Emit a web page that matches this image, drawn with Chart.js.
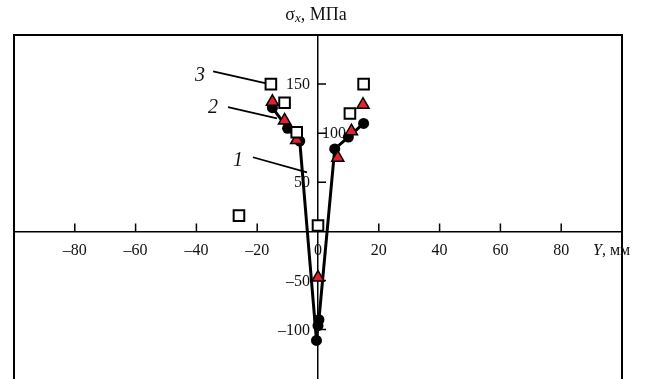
<!DOCTYPE html>
<html lang="ru">
<head>
<meta charset="UTF-8">
<title>σx, МПа</title>
<script src="https://cdn.jsdelivr.net/npm/chart.js"></script>
<style>
  html, body { margin: 0; padding: 0; background: #fff; overflow: hidden; }
  .wrap { position: relative; width: 649px; height: 398px; }
</style>
</head>
<body>
<div class="wrap"><canvas id="c"></canvas></div>
<script>
  // curve 1 (filled circles, joined by the thick line)
  const circleX = [-15, -10, -6, -0.5, 0, 0.3, 5.5, 10, 15];
  const circleY = [126, 105, 92, -111, -96, -90, 84, 96, 110];
  // curve 2 (red triangles)
  const triX = [-15, -11, -7, 0, 6.5, 11, 14.8];
  const triY = [132, 113, 93, -47, 75, 102, 129];
  // curve 3 (open squares)
  const squareX = [-26, -15.5, -11, -7, 0, 10.5, 15];
  const squareY = [16, 150, 131, 101, 6, 120, 150];

  const xTicks = [-80, -60, -40, -20, 0, 20, 40, 60, 80];
  const yTicksLeft = [150, 50, -50, -100];
  const yTicksRight = [100];

  // callouts 1, 2, 3 (data units): label spot, leader start, leader end
  const calloutText = ['3', '2', '1'];
  const calloutLabel = [[-38.8, 159], [-34.5, 125.5], [-26.3, 72]];
  const calloutFrom = [[-34.5, 163], [-29.6, 126.5], [-21.4, 75.5]];
  const calloutTo = [[-17.4, 151], [-13.5, 115], [-3.6, 60]];

  const pts = (xs, ys) => xs.map((x, i) => ({ x: x, y: ys[i] }));
  const fmt = v => (v < 0 ? '–' + Math.abs(v) : String(v));
  const serif = '"Liberation Serif", "DejaVu Serif", serif';

  const decor = {
    id: 'decor',
    beforeDatasetsDraw(chart) {
      const ctx = chart.ctx, a = chart.chartArea;
      const xs = chart.scales.x, ys = chart.scales.y;
      const x0 = xs.getPixelForValue(0), y0 = ys.getPixelForValue(0);
      ctx.save();
      ctx.strokeStyle = '#000';
      ctx.lineWidth = 2;
      ctx.strokeRect(a.left, a.top, a.right - a.left, a.bottom - a.top);

      // tick marks point inward
      ctx.lineWidth = 1.5;
      ctx.beginPath();
      xTicks.forEach(v => {
        if (v === 0) return;
        const px = xs.getPixelForValue(v);
        ctx.moveTo(px, y0); ctx.lineTo(px, y0 - 8);
      });
      yTicksLeft.concat(yTicksRight).forEach(v => {
        const py = ys.getPixelForValue(v);
        ctx.moveTo(x0, py); ctx.lineTo(x0 + 8, py);
      });
      ctx.stroke();

      ctx.fillStyle = '#111';
      ctx.font = '16px ' + serif;
      ctx.textBaseline = 'middle';
      ctx.textAlign = 'center';
      xTicks.forEach(v => ctx.fillText(fmt(v), xs.getPixelForValue(v), y0 + 19));
      ctx.textAlign = 'right';
      yTicksLeft.forEach(v => ctx.fillText(fmt(v), x0 - 8, ys.getPixelForValue(v) + 1));
      ctx.textAlign = 'left';
      yTicksRight.forEach(v => ctx.fillText(fmt(v), x0 + 4, ys.getPixelForValue(v) + 1));

      // axis name on the right: "Y, мм"
      ctx.font = 'italic 16px ' + serif;
      const ax = 593;
      ctx.fillText('Y', ax, y0 + 19);
      const yw = ctx.measureText('Y').width;
      ctx.font = '16px ' + serif;
      ctx.fillText(', мм', ax + yw, y0 + 19);

      // title "σx, МПа"
      ctx.font = '18px ' + serif;
      const w1 = ctx.measureText('σ').width;
      const w3 = ctx.measureText(', МПа').width;
      ctx.font = 'italic 13px ' + serif;
      const w2 = ctx.measureText('x').width;
      let tx = x0 - 2 - (w1 + w2 + w3) / 2;
      ctx.font = '18px ' + serif;
      ctx.fillText('σ', tx, 15);
      ctx.font = 'italic 13px ' + serif;
      ctx.fillText('x', tx + w1, 19);
      ctx.font = '18px ' + serif;
      ctx.fillText(', МПа', tx + w1 + w2, 15);
      ctx.restore();
    },
    afterDatasetsDraw(chart) {
      const ctx = chart.ctx, xs = chart.scales.x, ys = chart.scales.y;
      ctx.save();
      ctx.strokeStyle = '#000';
      ctx.lineWidth = 1.8;
      ctx.fillStyle = '#111';
      ctx.font = 'italic 20px ' + serif;
      ctx.textAlign = 'center';
      ctx.textBaseline = 'middle';
      calloutText.forEach((t, i) => {
        ctx.beginPath();
        ctx.moveTo(xs.getPixelForValue(calloutFrom[i][0]), ys.getPixelForValue(calloutFrom[i][1]));
        ctx.lineTo(xs.getPixelForValue(calloutTo[i][0]), ys.getPixelForValue(calloutTo[i][1]));
        ctx.stroke();
        ctx.fillText(t, xs.getPixelForValue(calloutLabel[i][0]), ys.getPixelForValue(calloutLabel[i][1]));
      });
      ctx.restore();
    }
  };

  new Chart(document.getElementById('c'), {
    type: 'scatter',
    data: {
      datasets: [
        {
          label: '3', data: pts(squareX, squareY), order: 1,
          pointStyle: 'rect', pointRadius: 7.5, pointBorderWidth: 2,
          pointBackgroundColor: '#fff', pointBorderColor: '#000'
        },
        {
          label: '2', data: pts(triX, triY), order: 2,
          pointStyle: 'triangle', pointRadius: 7, pointBorderWidth: 1.5,
          pointBackgroundColor: '#e3222e', pointBorderColor: '#000'
        },
        {
          label: '1', data: pts(circleX, circleY), order: 3,
          showLine: true, borderColor: '#000', borderWidth: 3,
          pointStyle: 'circle', pointRadius: 5.5, pointBorderWidth: 0,
          pointBackgroundColor: '#000'
        }
      ]
    },
    options: {
      responsive: true,
      maintainAspectRatio: false,
      animation: false,
      layout: { padding: { left: 14, right: 27, top: 35, bottom: 4 } },
      plugins: { legend: { display: false }, tooltip: { enabled: false } },
      scales: {
        x: {
          type: 'linear', min: -100, max: 100, position: { y: 0 },
          ticks: { display: false },
          grid: { display: false, drawTicks: false },
          border: { display: true, color: '#000', width: 1.5 }
        },
        y: {
          type: 'linear', min: -160, max: 200, position: { x: 0 },
          ticks: { display: false },
          grid: { display: false, drawTicks: false },
          border: { display: true, color: '#000', width: 1.5 }
        }
      }
    },
    plugins: [decor]
  });
</script>
</body>
</html>
